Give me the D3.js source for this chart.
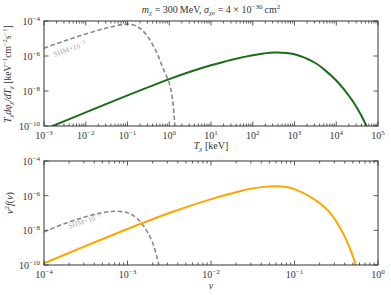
<!DOCTYPE html>
<html>
<head>
<meta charset="utf-8">
<script src="https://cdn.jsdelivr.net/npm/d3@7"></script>
<style>
body { margin: 0; background: #fff; }
text { font-family: "Liberation Serif", "DejaVu Serif", serif; fill: #333; }
</style>
</head>
<body>
<svg id="fig" width="391" height="295"></svg>
<script>
// Top panel: kinetic energy spectrum (log10 T [keV], log10 flux)
var greenT    = [-3, -2, -1, 0, 0.5, 1, 1.5, 2, 2.5, 3, 3.5, 3.7, 4, 4.2, 4.4, 4.6, 4.76];
var greenFlux = [-10.2, -9.22, -8.25, -7.32, -6.9, -6.53, -6.21, -5.96, -5.8, -5.9, -6.4, -6.75, -7.4, -7.95, -8.6, -9.4, -10.2];
var shmT      = [-3, -2.5, -2, -1.5, -1.1, -0.9, -0.7, -0.5, -0.3, -0.15, 0, 0.08, 0.14];
var shmFlux   = [-5.55, -5.13, -4.74, -4.4, -4.2, -4.2, -4.42, -4.95, -5.8, -6.7, -7.55, -8.5, -10.2];

// Bottom panel: velocity distribution (log10 v, log10 v^2 f(v))
var orangeV   = [-4, -3.5, -3, -2.5, -2, -1.7, -1.5, -1.3, -1.1, -1, -0.8, -0.6, -0.5, -0.4, -0.3, -0.25];
var orangeF   = [-9.9, -8.9, -7.92, -7.0, -6.2, -5.8, -5.58, -5.47, -5.5, -5.62, -6.1, -6.85, -7.5, -8.35, -9.5, -10.3];
var shmV      = [-4, -3.75, -3.5, -3.3, -3.15, -3.0, -2.9, -2.8, -2.7, -2.61];
var shmF      = [-8.1, -7.6, -7.22, -6.98, -6.9, -6.98, -7.25, -7.8, -8.7, -10.3];

var topXTicks = [-3, -2, -1, 0, 1, 2, 3, 4, 5];
var botXTicks = [-4, -3, -2, -1, 0];
var yTicks    = [-4, -6, -8, -10];

var svg = d3.select("#fig");

var pw = {x0: 44, x1: 378};
var panels = [
	{id: "p1", y0: 21, y1: 126, xdom: [-3, 5], series: [
		{x: shmT, y: shmFlux, color: "#888", width: 1.6, dash: "4.5,2.5"},
		{x: greenT, y: greenFlux, color: "#1b6b1b", width: 2, dash: null}],
	 xticks: topXTicks, shm: {lx: -2.75, ly: -6.05, rot: -19}},
	{id: "p2", y0: 161, y1: 265, xdom: [-4, 0], series: [
		{x: shmV, y: shmF, color: "#888", width: 1.6, dash: "4.5,2.5"},
		{x: orangeV, y: orangeF, color: "#ffa500", width: 2, dash: null}],
	 xticks: botXTicks, shm: {lx: -3.7, ly: -7.9, rot: -17}}
];

// power-of-ten label as text with superscript
function powLabel(sel, e){
	sel.append("tspan").text("10");
	sel.append("tspan").attr("dy", -4).attr("font-size", "7px").text(e < 0 ? "\u2212" + (-e) : e);
}

panels.forEach(function(p){
	var x = d3.scaleLinear().domain(p.xdom).range([pw.x0, pw.x1]);
	var y = d3.scaleLinear().domain([-4, -10]).range([p.y0, p.y1]);
	var g = svg.append("g").attr("id", p.id);

	g.append("clipPath").attr("id", p.id + "clip").append("rect")
		.attr("x", pw.x0).attr("y", p.y0).attr("width", pw.x1 - pw.x0).attr("height", p.y1 - p.y0);

	var line = d3.line().curve(d3.curveCatmullRom.alpha(0.5))
		.x(function(d){ return x(d[0]); }).y(function(d){ return y(d[1]); });

	p.series.forEach(function(s){
		g.append("path").attr("clip-path", "url(#" + p.id + "clip)")
			.datum(d3.zip(s.x, s.y))
			.attr("d", line).attr("fill", "none")
			.attr("stroke", s.color).attr("stroke-width", s.width)
			.attr("stroke-dasharray", s.dash);
	});

	// SHM label
	g.append("text").attr("transform", "translate(" + x(p.shm.lx) + "," + y(p.shm.ly) + ") rotate(" + p.shm.rot + ")")
		.attr("font-size", "7.5px").style("fill", "#aaa")
		.call(function(t){
			t.append("tspan").text("SHM\u00d710");
			t.append("tspan").attr("dy", -3).attr("font-size", "5.5px").text("\u22123");
		});

	// minor and major x ticks (top and bottom, inward)
	var minors = [];
	for (var e = p.xdom[0]; e < p.xdom[1]; e++)
		for (var k = 2; k < 10; k++) minors.push(e + Math.log10(k));
	[p.y0, p.y1].forEach(function(edge){
		var dir = edge == p.y0 ? 1 : -1;
		g.selectAll(null).data(minors).enter().append("line")
			.attr("x1", x).attr("x2", x).attr("y1", edge).attr("y2", edge + dir * 2.5)
			.attr("stroke", "#333").attr("stroke-width", 0.8);
		g.selectAll(null).data(p.xticks).enter().append("line")
			.attr("x1", x).attr("x2", x).attr("y1", edge).attr("y2", edge + dir * 4.5)
			.attr("stroke", "#333").attr("stroke-width", 0.8);
	});
	[pw.x0, pw.x1].forEach(function(edge){
		var dir = edge == pw.x0 ? 1 : -1;
		g.selectAll(null).data(yTicks).enter().append("line")
			.attr("y1", y).attr("y2", y).attr("x1", edge).attr("x2", edge + dir * 4.5)
			.attr("stroke", "#333").attr("stroke-width", 0.8);
	});

	// frame
	g.append("rect").attr("x", pw.x0).attr("y", p.y0)
		.attr("width", pw.x1 - pw.x0).attr("height", p.y1 - p.y0)
		.attr("fill", "none").attr("stroke", "#333").attr("stroke-width", 1);

	// tick labels
	p.xticks.forEach(function(e){
		g.append("text").attr("x", x(e)).attr("y", p.y1 + 13).attr("text-anchor", "middle")
			.attr("font-size", "10px").call(powLabel, e);
	});
	yTicks.forEach(function(e){
		g.append("text").attr("x", pw.x0 - 4).attr("y", y(e) + 4).attr("text-anchor", "end")
			.attr("font-size", "10px").call(powLabel, e);
	});
});

// title
svg.append("text").attr("x", 211).attr("y", 13).attr("text-anchor", "middle").attr("font-size", "10px")
	.call(function(t){
		t.append("tspan").attr("font-style", "italic").text("m");
		t.append("tspan").attr("font-size", "7px").attr("dy", 2).attr("font-style", "italic").text("\u03c7");
		t.append("tspan").attr("dy", -2).text(" = 300\u2009MeV, ");
		t.append("tspan").attr("font-style", "italic").text("\u03c3");
		t.append("tspan").attr("font-size", "7px").attr("dy", 2).attr("font-style", "italic").text("\u03c7e");
		t.append("tspan").attr("dy", -2).text(" = 4 \u00d7 10");
		t.append("tspan").attr("font-size", "7px").attr("dy", -4).text("\u221230");
		t.append("tspan").attr("dy", 4).text("\u2009cm");
		t.append("tspan").attr("font-size", "7px").attr("dy", -4).text("2");
	});

// x axis titles
svg.append("text").attr("x", 211).attr("y", 149).attr("text-anchor", "middle").attr("font-size", "10px")
	.call(function(t){
		t.append("tspan").attr("font-style", "italic").text("T");
		t.append("tspan").attr("font-size", "7px").attr("dy", 2).attr("font-style", "italic").text("\u03c7");
		t.append("tspan").attr("dy", -2).text(" [keV]");
	});
svg.append("text").attr("x", 211).attr("y", 289).attr("text-anchor", "middle").attr("font-size", "10px")
	.attr("font-style", "italic").text("v");

// y axis titles
svg.append("text").attr("transform", "translate(11,74) rotate(-90)").attr("text-anchor", "middle").attr("font-size", "9.5px")
	.call(function(t){
		t.append("tspan").attr("font-style", "italic").text("T");
		t.append("tspan").attr("font-size", "6.5px").attr("dy", 2).attr("font-style", "italic").text("\u03c7");
		t.append("tspan").attr("dy", -2).attr("font-style", "italic").text("d\u03c6");
		t.append("tspan").attr("font-size", "6.5px").attr("dy", 2).attr("font-style", "italic").text("\u03c7");
		t.append("tspan").attr("dy", -2).attr("font-style", "italic").text("/dT");
		t.append("tspan").attr("font-size", "6.5px").attr("dy", 2).attr("font-style", "italic").text("\u03c7");
		t.append("tspan").attr("dy", -2).text(" [keV");
		t.append("tspan").attr("font-size", "6.5px").attr("dy", -4).text("\u22121");
		t.append("tspan").attr("dy", 4).text("cm");
		t.append("tspan").attr("font-size", "6.5px").attr("dy", -4).text("\u22122");
		t.append("tspan").attr("dy", 4).text("s");
		t.append("tspan").attr("font-size", "6.5px").attr("dy", -4).text("\u22121");
		t.append("tspan").attr("dy", 4).text("]");
	});
svg.append("text").attr("transform", "translate(13,203) rotate(-90)").attr("text-anchor", "middle").attr("font-size", "10px")
	.call(function(t){
		t.append("tspan").attr("font-style", "italic").text("v");
		t.append("tspan").attr("font-size", "7px").attr("dy", -4).text("2");
		t.append("tspan").attr("dy", 4).attr("font-style", "italic").text("f");
		t.append("tspan").text("(");
		t.append("tspan").attr("font-style", "italic").text("v");
		t.append("tspan").text(")");
	});
</script>
</body>
</html>
